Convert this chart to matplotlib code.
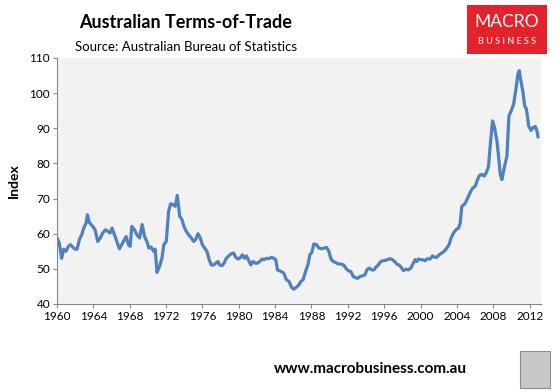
import matplotlib
matplotlib.use('Agg')
import matplotlib.pyplot as plt
from matplotlib.patches import Rectangle

# Australian terms of trade index (decimal year, index)
years = [
    1960.00, 1960.26, 1960.51, 1960.74, 1960.99, 1961.25, 1961.47, 1961.73, 1961.98, 1962.21,
    1962.46, 1962.72, 1962.94, 1963.20, 1963.34, 1963.56, 1963.93, 1964.19, 1964.48, 1964.78,
    1965.03, 1965.33, 1965.59, 1965.84, 1966.06, 1966.32, 1966.58, 1966.87, 1967.13, 1967.42,
    1967.61, 1967.86, 1968.05, 1968.23, 1968.53, 1968.78, 1969.08, 1969.37, 1969.63, 1969.89,
    1970.11, 1970.36, 1970.62, 1970.80, 1971.00, 1971.29, 1971.54, 1971.76, 1972.02, 1972.28,
    1972.50, 1972.75, 1973.01, 1973.23, 1973.38, 1973.49, 1973.75, 1973.97, 1974.22, 1974.48,
    1974.77, 1975.03, 1975.25, 1975.51, 1975.77, 1975.99, 1976.25, 1976.50, 1976.72, 1976.98,
    1977.24, 1977.46, 1977.71, 1977.90, 1978.16, 1978.38, 1978.63, 1978.93, 1979.18, 1979.44,
    1979.66, 1979.92, 1980.18, 1980.40, 1980.65, 1980.84, 1981.09, 1981.32, 1981.57, 1981.83,
    1982.05, 1982.31, 1982.57, 1982.79, 1983.04, 1983.34, 1983.59, 1983.85, 1984.07, 1984.26,
    1984.69, 1984.95, 1985.24, 1985.54, 1985.80, 1986.05, 1986.35, 1986.60, 1986.83, 1987.08,
    1987.34, 1987.60, 1987.82, 1988.04, 1988.26, 1988.55, 1988.81, 1989.10, 1989.40, 1989.66,
    1989.91, 1990.13, 1990.39, 1990.65, 1990.90, 1991.13, 1991.38, 1991.60, 1991.86, 1992.12,
    1992.34, 1992.60, 1992.85, 1993.07, 1993.33, 1993.59, 1993.88, 1994.14, 1994.36, 1994.62,
    1994.87, 1995.09, 1995.35, 1995.61, 1995.83, 1996.09, 1996.34, 1996.64, 1996.90, 1997.15,
    1997.37, 1997.63, 1997.85, 1998.11, 1998.37, 1998.66, 1998.92, 1999.14, 1999.39, 1999.58,
    1999.76, 2000.02, 2000.24, 2000.50, 2000.75, 2001.05, 2001.31, 2001.53, 2001.78, 2002.04,
    2002.33, 2002.59, 2002.89, 2003.14, 2003.36, 2003.62, 2003.88, 2004.17, 2004.36, 2004.54,
    2004.80, 2005.02, 2005.27, 2005.53, 2005.75, 2006.01, 2006.27, 2006.49, 2006.74, 2007.00,
    2007.22, 2007.48, 2007.66, 2007.92, 2008.14, 2008.40, 2008.58, 2008.77, 2008.95, 2009.21,
    2009.50, 2009.72, 2009.98, 2010.24, 2010.49, 2010.71, 2010.86, 2011.04, 2011.27, 2011.45,
    2011.63, 2011.78, 2011.89, 2012.15, 2012.37, 2012.62, 2012.81, 2012.92,
]
tot_index = [
    58.8, 57.3, 53.0, 55.6, 55.0, 56.4, 56.9, 56.2, 55.6, 55.6,
    58.3, 59.7, 61.6, 63.0, 65.4, 63.2, 62.1, 61.1, 57.8, 58.8,
    60.2, 61.1, 60.7, 60.2, 61.6, 59.7, 57.8, 55.7, 56.9, 58.3,
    59.2, 56.9, 56.4, 62.1, 61.1, 59.7, 58.8, 62.6, 59.2, 57.8,
    55.9, 56.2, 55.0, 55.6, 49.0, 50.7, 53.0, 56.9, 57.8, 66.4,
    68.5, 68.3, 67.8, 70.9, 67.8, 65.0, 64.0, 62.1, 60.7, 59.7,
    58.8, 57.8, 58.3, 60.0, 58.8, 56.9, 55.9, 55.0, 52.8, 51.1,
    51.1, 51.6, 52.1, 51.1, 50.9, 51.6, 53.0, 53.8, 54.3, 54.5,
    53.3, 52.8, 53.2, 54.0, 53.0, 53.7, 52.4, 51.1, 52.1, 51.6,
    51.6, 52.1, 52.8, 52.6, 53.0, 52.9, 53.3, 53.0, 52.6, 49.7,
    49.2, 48.8, 46.9, 46.4, 44.8, 44.2, 44.8, 45.4, 46.4, 46.9,
    49.2, 51.1, 54.0, 54.7, 57.1, 56.9, 55.9, 55.7, 55.9, 56.1,
    55.0, 52.9, 52.1, 51.8, 51.4, 51.4, 51.3, 50.9, 49.9, 49.4,
    49.2, 47.8, 47.5, 47.3, 47.8, 48.0, 48.3, 49.9, 50.2, 49.7,
    49.7, 50.5, 51.1, 52.1, 52.3, 52.4, 52.6, 52.9, 52.6, 52.1,
    51.4, 51.1, 50.5, 49.5, 49.9, 49.7, 50.2, 51.3, 52.6, 52.1,
    52.8, 52.6, 52.6, 52.3, 52.9, 52.8, 53.7, 53.3, 53.3, 54.0,
    54.5, 55.0, 55.9, 56.9, 58.8, 60.2, 61.1, 61.6, 63.0, 67.8,
    68.3, 69.2, 70.7, 72.1, 73.0, 73.5, 75.4, 76.6, 76.9, 76.4,
    77.3, 79.2, 85.0, 92.1, 90.2, 86.4, 82.1, 76.9, 75.4, 78.8,
    82.1, 93.5, 95.0, 96.9, 101.1, 105.4, 106.4, 103.5, 100.2, 96.4,
    95.6, 93.0, 90.7, 89.4, 90.2, 90.5, 89.2, 87.6,
]
year_ticks = [1960, 1964, 1968, 1972, 1976, 1980, 1984, 1988, 1992, 1996, 2000, 2004, 2008, 2012]
index_ticks = [40, 50, 60, 70, 80, 90, 100, 110]

plt.rcParams['font.family'] = ['Lato', 'DejaVu Sans']

fig = plt.figure(figsize=(5.6, 3.92), dpi=100)
ax = fig.add_axes([57 / 560, 1 - 304 / 392, (541 - 57) / 560, (304 - 58) / 392])

ax.plot(years, tot_index, color='#4F81BD', linewidth=2.3, solid_joinstyle='round')
ax.set_facecolor('#F2F2F2')
ax.set_xlim(1960, 2013.25)
ax.set_ylim(40, 110)
ax.set_xticks(year_ticks)
ax.set_yticks(index_ticks)
ax.tick_params(axis='both', labelsize=8.5, colors='#868686', labelcolor='black', length=3, width=0.8, pad=2)
for side in ['top', 'right']:
    ax.spines[side].set_visible(False)
for side in ['left', 'bottom']:
    ax.spines[side].set_color('#868686')
    ax.spines[side].set_linewidth(0.8)
ax.set_ylabel('Index', fontsize=10, fontweight='bold', labelpad=7)

# titles
fig.text(186 / 560, 1 - 23 / 392, 'Australian Terms-of-Trade', fontsize=13, fontweight='bold',
         ha='center', va='center')
fig.text(186 / 560, 1 - 47 / 392, 'Source: Australian Bureau of Statistics', fontsize=9.5,
         ha='center', va='center')

# logo box
fig.patches.append(Rectangle((467 / 560, 1 - 54 / 392), 80 / 560, 49 / 392, transform=fig.transFigure,
                             facecolor='#E3222B', edgecolor='none'))
fig.text(507 / 560, 1 - 22 / 392, 'MACRO', fontsize=12.5, color='white', ha='center', va='center')
fig.text(507 / 560, 1 - 41 / 392, 'B U S I N E S S', fontsize=6.5, color='#F6D0D0', ha='center',
         va='center', fontweight='bold')

# footer
fig.text(370 / 560, 1 - 369 / 392, 'www.macrobusiness.com.au', fontsize=11, fontweight='bold',
         ha='center', va='center')
fig.patches.append(Rectangle((520 / 560, 1 - 388 / 392), 30 / 560, 37 / 392, transform=fig.transFigure,
                             facecolor='#C8C8C8', edgecolor='#8C8C8C', linewidth=0.8))

fig.savefig('out.png', dpi=100)
